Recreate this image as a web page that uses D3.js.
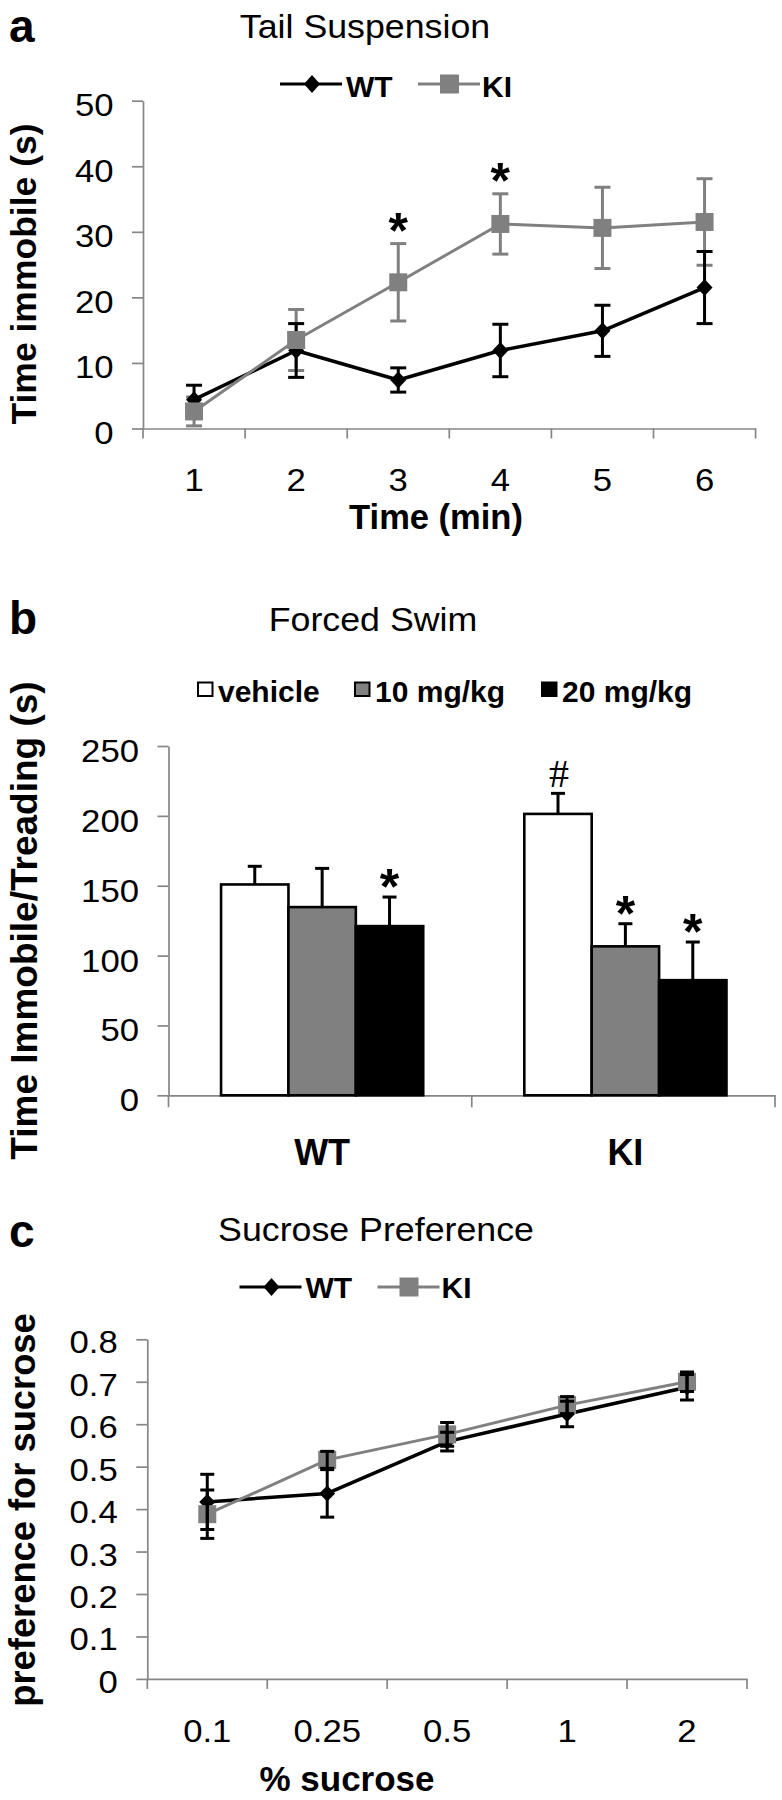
<!DOCTYPE html>
<html><head><meta charset="utf-8">
<script src="https://cdn.jsdelivr.net/npm/d3@7"></script>
<style>
body{margin:0;background:#fff}
svg{display:block}
text{font-family:"Liberation Sans",Arial,Helvetica,sans-serif;fill:#000}
</style>
</head><body>
<svg id="chart" width="782" height="1800"></svg>
<script>
// ---------- data ----------
// (a) Tail suspension
const minutes = ["1","2","3","4","5","6"];
const tsWT    = [4.4, 11.9, 7.4, 11.9, 14.9, 21.5];
const tsWTerr = [2.2, 4.1, 1.85, 4.0, 3.9, 5.5];
const tsKI    = [2.6, 13.5, 22.3, 31.2, 30.6, 31.5];
const tsKIerr = [2.2, 4.65, 5.9, 4.6, 6.2, 6.6];
const tsStars = ["3","4"];
const tsTicks = [0,10,20,30,40,50];

// (b) Forced swim
const fsGroups = ["WT","KI"];
const fsDoses  = ["vehicle","10 mg/kg","20 mg/kg"];
const fsWT     = [150.9, 134.7, 121.1];
const fsWTerr  = [13.0, 27.7, 20.8];
const fsKI     = [201.4, 106.6, 82.4];
const fsKIerr  = [14.7, 16.2, 27.3];
const fsMarkGroup = ["WT","KI","KI","KI"];
const fsMarkDose  = ["20 mg/kg","vehicle","10 mg/kg","20 mg/kg"];
const fsMarkSym   = ["*","#","*","*"];
const fsTicks = [0,50,100,150,200,250];

// (c) Sucrose preference
const sucrose  = ["0.1","0.25","0.5","1","2"];
const spWT     = [0.417, 0.437, 0.559, 0.624, 0.687];
const spWTerr  = [0.065, 0.056, 0.022, 0.030, 0.030];
const spKI     = [0.388, 0.516, 0.576, 0.645, 0.700];
const spKIerr  = [0.057, 0.020, 0.028, 0.020, 0.023];
const spTicks  = [0,0.1,0.2,0.3,0.4,0.5,0.6,0.7,0.8];

const seriesNames = ["WT","KI"];

// ---------- helpers ----------
const svg = d3.select("#chart");
const AX = "#868686", GRAY = "#808080";
const TICK_SIZE = 31, TICK_SX = 1.12;

function label(x, y, str, o = {}) {
  const t = svg.append("text")
    .attr("transform", `translate(${x},${y})` + (o.rot ? ` rotate(${o.rot})` : "") + ` scale(${o.sx || 1},1)`)
    .attr("text-anchor", o.anchor || "start")
    .attr("font-size", o.size || 31)
    .attr("font-weight", o.bold ? "bold" : "normal")
    .text(str);
  if (o.family) t.style("font-family", o.family);
  return t;
}

function yAxis(y, ticks, xPos, fmt, dyBase) {
  const g = svg.append("g").attr("transform", `translate(${xPos},0)`)
    .call(d3.axisLeft(y).tickValues(ticks).tickSize(11).tickSizeOuter(0).tickFormat(fmt));
  g.attr("font-family", null).attr("font-size", null);
  g.select(".domain").attr("stroke", AX).attr("stroke-width", 1.7);
  g.selectAll(".tick line").attr("stroke", AX).attr("stroke-width", 1.7);
  g.selectAll(".tick text").attr("x", null).attr("dy", null)
    .attr("transform", `translate(-29.5,${dyBase}) scale(${TICK_SX},1)`)
    .attr("font-size", TICK_SIZE);
}

function xAxisBand(x, yPos, tickLen, labelDy, showLabels = true) {
  const g = svg.append("g").attr("transform", `translate(0,${yPos})`)
    .call(d3.axisBottom(x).tickSize(0).tickSizeOuter(0).tickPadding(0));
  g.attr("font-family", null).attr("font-size", null);
  g.select(".domain").attr("stroke", AX).attr("stroke-width", 1.7);
  const txt = g.selectAll(".tick text").attr("y", null).attr("dy", null);
  if (showLabels) {
    txt.attr("transform", `translate(0,${labelDy}) scale(${TICK_SX},1)`)
      .attr("font-size", TICK_SIZE);
  } else txt.remove();
  const bounds = x.domain().map(d => x(d)).concat([x.range()[1]]);
  g.selectAll("line.bound").data(bounds).join("line").attr("class", "bound")
    .attr("x1", d => d).attr("x2", d => d).attr("y1", 0).attr("y2", tickLen)
    .attr("stroke", AX).attr("stroke-width", 1.7);
}

function errorBars(xF, yF, cats, vals, errs, color, cap, upOnly) {
  const g = svg.append("g").attr("stroke", color).attr("stroke-width", 3).attr("fill", "none");
  vals.forEach((v, i) => {
    const x = xF(cats[i]);
    const yT = yF(v + errs[i]), yBt = upOnly ? yF(v) : yF(v - errs[i]);
    g.append("line").attr("x1", x).attr("x2", x).attr("y1", yT).attr("y2", yBt);
    g.append("line").attr("x1", x - cap / 2).attr("x2", x + cap / 2).attr("y1", yT).attr("y2", yT);
    if (!upOnly) g.append("line").attr("x1", x - cap / 2).attr("x2", x + cap / 2).attr("y1", yBt).attr("y2", yBt);
  });
}

function seriesLine(xF, yF, cats, vals, color, w) {
  svg.append("path").datum(vals)
    .attr("d", d3.line().x((d, i) => xF(cats[i])).y(d => yF(d)))
    .attr("fill", "none").attr("stroke", color).attr("stroke-width", w).attr("stroke-linejoin", "round");
}
const diamondPath = (w, h) => `M0,${-h}L${w},0L0,${h}L${-w},0Z`;
function diamonds(xF, yF, cats, vals, w, h, color) {
  svg.append("g").selectAll("path").data(vals).join("path")
    .attr("d", diamondPath(w, h))
    .attr("transform", (d, i) => `translate(${xF(cats[i])},${yF(d)})`)
    .attr("fill", color);
}
function squares(xF, yF, cats, vals, s, color) {
  svg.append("g").selectAll("rect").data(vals).join("rect")
    .attr("x", (d, i) => xF(cats[i]) - s / 2).attr("y", d => yF(d) - s / 2)
    .attr("width", s).attr("height", s).attr("fill", color);
}
function lineLegend(x0, yLine, yText) {
  svg.append("line").attr("x1", x0).attr("x2", x0 + 62).attr("y1", yLine).attr("y2", yLine)
    .attr("stroke", "#000").attr("stroke-width", 3);
  svg.append("path").attr("d", diamondPath(8, 9)).attr("transform", `translate(${x0 + 32},${yLine})`).attr("fill", "#000");
  label(x0 + 66, yText, seriesNames[0], {size: 30, bold: true});
  const x1 = x0 + 138;
  svg.append("line").attr("x1", x1).attr("x2", x1 + 62).attr("y1", yLine).attr("y2", yLine)
    .attr("stroke", GRAY).attr("stroke-width", 3);
  svg.append("rect").attr("x", x1 + 22).attr("y", yLine - 9.5).attr("width", 19).attr("height", 19).attr("fill", GRAY);
  label(x1 + 64, yText, seriesNames[1], {size: 30, bold: true});
}

// ---------- panel a ----------
const xA = d3.scaleBand().domain(minutes).range([143, 755.6]);
const cxA = d => xA(d) + xA.bandwidth() / 2;
const yA = d3.scaleLinear().domain([0, 50]).range([428.5, 100.7]);

label(9, 42, "a", {size: 46, bold: true});
label(365, 37.5, "Tail Suspension", {size: 32.5, sx: 1.1, anchor: "middle"});
lineLegend(280, 84, 97.3);
yAxis(yA, tsTicks, 143, d3.format("d"), 15);
xAxisBand(xA, 428.5, 10, 62.5);
label(436, 528.5, "Time (min)", {size: 34.5, bold: true, anchor: "middle"});
label(36, 274, "Time immobile (s)", {size: 35.5, bold: true, anchor: "middle", rot: -90});

errorBars(cxA, yA, minutes, tsKI, tsKIerr, GRAY, 16, false);
errorBars(cxA, yA, minutes, tsWT, tsWTerr, "#000", 16, false);
seriesLine(cxA, yA, minutes, tsWT, "#000", 3.5);
diamonds(cxA, yA, minutes, tsWT, 8, 8.5, "#000");
seriesLine(cxA, yA, minutes, tsKI, GRAY, 3);
squares(cxA, yA, minutes, tsKI, 18, GRAY);
tsStars.forEach(m => {
  const i = minutes.indexOf(m);
  const top = yA(tsKI[i] + tsKIerr[i]);
  label(cxA(m), top - 23 + 27, "*", {size: 50, bold: true, anchor: "middle"});
});

// ---------- panel b ----------
const xB = d3.scaleBand().domain(fsGroups).range([168.5, 775]);
const xBi = d3.scaleBand().domain(fsDoses).range([0, xB.bandwidth()]).paddingInner(0).paddingOuter(0.75).align(0.52);
const yB = d3.scaleLinear().domain([0, 250]).range([1095.3, 746]);
const doseFill = d3.scaleOrdinal().domain(fsDoses).range(["#fff", GRAY, "#000"]);
const fsVals = {WT: fsWT, KI: fsKI}, fsErrs = {WT: fsWTerr, KI: fsKIerr};
const fsRows = fsGroups.flatMap(g => fsDoses.map((d, i) => ({group: g, dose: d, value: fsVals[g][i], err: fsErrs[g][i]})));
const barX = r => xB(r.group) + xBi(r.dose);
const barCx = r => barX(r) + xBi.bandwidth() / 2;

label(9, 634, "b", {size: 46, bold: true});
label(373, 630.7, "Forced Swim", {size: 32.5, sx: 1.1, anchor: "middle"});
const legX = [197, 354, 541];
fsDoses.forEach((d, i) => {
  svg.append("rect").attr("x", legX[i] + 1).attr("y", 682.5).attr("width", 14.5).attr("height", 13.5)
    .attr("fill", doseFill(d)).attr("stroke", "#000").attr("stroke-width", 2);
  label(legX[i] + 21, 702, d, {size: 30, bold: true});
});
yAxis(yB, fsTicks, 168.5, d3.format("d"), 15.5);
xAxisBand(xB, 1095.3, 12, 0, false);
fsGroups.forEach(g => label(xB(g) + xB.bandwidth() / 2 + 2, 1165, g, {size: 36, bold: true, anchor: "middle"}));
label(37, 920.5, "Time Immobile/Treading (s)", {size: 37, bold: true, anchor: "middle", rot: -90});

svg.append("g").selectAll("rect").data(fsRows).join("rect")
  .attr("x", barX).attr("width", xBi.bandwidth())
  .attr("y", r => yB(r.value)).attr("height", r => yB(0) - yB(r.value))
  .attr("fill", r => doseFill(r.dose)).attr("stroke", "#000").attr("stroke-width", 2.6);
const eb = svg.append("g").attr("stroke", "#000").attr("stroke-width", 3);
fsRows.forEach(r => {
  const x = barCx(r), yT = yB(r.value + r.err), yV = yB(r.value);
  eb.append("line").attr("x1", x).attr("x2", x).attr("y1", yT).attr("y2", yV);
  eb.append("line").attr("x1", x - 7).attr("x2", x + 7).attr("y1", yT).attr("y2", yT);
});
fsMarkSym.forEach((s, k) => {
  const r = fsRows.find(q => q.group === fsMarkGroup[k] && q.dose === fsMarkDose[k]);
  const c = yB(r.value + r.err) - 20;
  if (s === "#") label(barCx(r) + 1, c + 13.5, s, {size: 40, anchor: "middle", family: "'Liberation Serif','Times New Roman',serif"});
  else label(barCx(r), c + 27, s, {size: 50, bold: true, anchor: "middle"});
});

// ---------- panel c ----------
const xC = d3.scaleBand().domain(sucrose).range([147.3, 747]);
const cxC = d => xC(d) + xC.bandwidth() / 2;
const yC = d3.scaleLinear().domain([0, 0.8]).range([1678.9, 1339.3]);

label(9, 1247, "c", {size: 46, bold: true});
label(376, 1240.6, "Sucrose Preference", {size: 32.5, sx: 1.1, anchor: "middle"});
lineLegend(239.5, 1287, 1298);
yAxis(yC, spTicks, 147.3, d3.format("~g"), 13.5);
xAxisBand(xC, 1678.9, 10, 63.5);
label(347, 1791, "% sucrose", {size: 35, bold: true, anchor: "middle"});
label(35, 1510, "preference for sucrose", {size: 36.3, bold: true, anchor: "middle", rot: -90});

seriesLine(cxC, yC, sucrose, spWT, "#000", 3.5);
diamonds(cxC, yC, sucrose, spWT, 8, 8, "#000");
seriesLine(cxC, yC, sucrose, spKI, GRAY, 3);
squares(cxC, yC, sucrose, spKI, 18, GRAY);
errorBars(cxC, yC, sucrose, spKI, spKIerr, "#000", 14, false);
errorBars(cxC, yC, sucrose, spWT, spWTerr, "#000", 14, false);
</script>
</body></html>
